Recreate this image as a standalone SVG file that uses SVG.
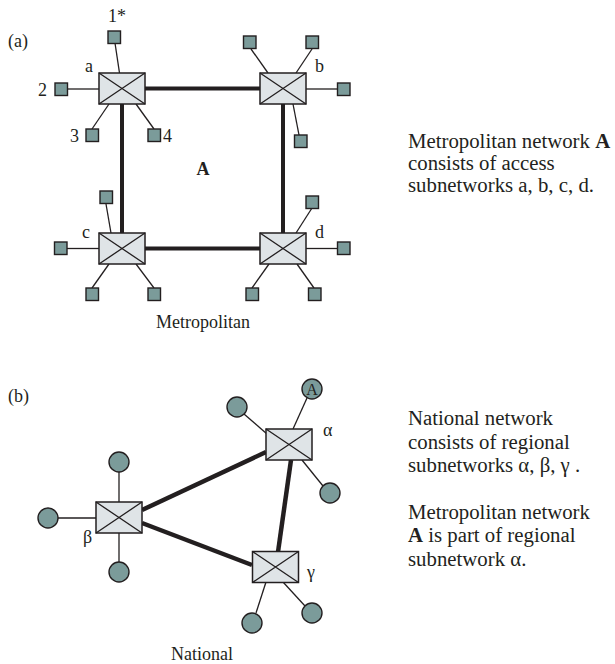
<svg xmlns="http://www.w3.org/2000/svg" width="615" height="664" viewBox="0 0 615 664">
<style>
text{font-family:"Liberation Serif","Times New Roman",serif;fill:#231f20}
.lbl{font-size:18px}
.txt{font-size:20.8px}
.b{font-weight:bold}
.sw{fill:#dfe4e7;stroke:#231f20;stroke-width:1.5}
.x{stroke:#231f20;stroke-width:1.3;fill:none}
.t{fill:#7b9b9a;stroke:#231f20;stroke-width:1.4}
.thin{stroke:#231f20;stroke-width:1.3;fill:none}
.thick{stroke:#231f20;stroke-width:4;fill:none}
.thickb{stroke:#231f20;stroke-width:4.5;fill:none}
</style>
<defs>
<g id="sw"><rect class="sw" x="-23" y="-15.5" width="46" height="31"/><path class="x" d="M-23,-15.5L23,15.5M-23,15.5L23,-15.5"/></g>
</defs>

<g id="connectors">
<line class="thick" x1="145" y1="88.5" x2="260" y2="88.5"/>
<line class="thick" x1="145" y1="248.5" x2="260" y2="248.5"/>
<line class="thick" x1="122" y1="104" x2="122" y2="233"/>
<line class="thick" x1="283" y1="104" x2="283" y2="233"/>
<line class="thin" x1="115" y1="43" x2="119.5" y2="73"/>
<line class="thin" x1="68" y1="89" x2="99" y2="89"/>
<line class="thin" x1="109" y1="104" x2="92" y2="129"/>
<line class="thin" x1="136" y1="104" x2="154" y2="129"/>
<line class="thin" x1="268" y1="73" x2="251" y2="49"/>
<line class="thin" x1="296" y1="73" x2="312" y2="49"/>
<line class="thin" x1="306" y1="89" x2="337" y2="89"/>
<line class="thin" x1="293" y1="104" x2="299" y2="135"/>
<line class="thin" x1="106" y1="204" x2="111" y2="233"/>
<line class="thin" x1="67" y1="248.5" x2="99" y2="248.5"/>
<line class="thin" x1="109" y1="264" x2="92" y2="288"/>
<line class="thin" x1="136" y1="264" x2="154" y2="288"/>
<line class="thin" x1="296" y1="233" x2="312" y2="208"/>
<line class="thin" x1="306" y1="248.5" x2="337" y2="248.5"/>
<line class="thin" x1="269" y1="264" x2="252" y2="288"/>
<line class="thin" x1="297" y1="264" x2="314" y2="288"/>
<line class="thickb" x1="142" y1="510" x2="266" y2="452"/>
<line class="thickb" x1="142" y1="523" x2="252" y2="565"/>
<line class="thickb" x1="291" y1="460" x2="278" y2="552"/>
<line class="thin" x1="293" y1="429" x2="307" y2="398"/>
<line class="thin" x1="244" y1="414" x2="267" y2="434"/>
<line class="thin" x1="302" y1="460" x2="323" y2="486"/>
<line class="thin" x1="119" y1="472" x2="119" y2="502"/>
<line class="thin" x1="58" y1="518" x2="96" y2="518"/>
<line class="thin" x1="119" y1="532" x2="119" y2="562"/>
<line class="thin" x1="266" y1="582" x2="256" y2="613"/>
<line class="thin" x1="283" y1="582" x2="305" y2="606"/>
</g>

<g id="node-a">
<use href="#sw" x="122" y="88.5"/>
<rect class="t" x="108" y="31" width="12.5" height="12.5"/>
<rect class="t" x="55" y="83" width="12.5" height="12.5"/>
<rect class="t" x="86" y="129" width="12.5" height="12.5"/>
<rect class="t" x="148" y="129" width="12.5" height="12.5"/>
<text class="lbl" x="108" y="22">1*</text>
<text class="lbl" x="38" y="96">2</text>
<text class="lbl" x="70" y="142">3</text>
<text class="lbl" x="163" y="142">4</text>
<text class="lbl" x="85" y="72">a</text>
</g>
<g id="node-b">
<use href="#sw" x="283" y="88.5"/>
<rect class="t" x="243.5" y="36" width="12.5" height="12.5"/>
<rect class="t" x="306" y="36" width="12.5" height="12.5"/>
<rect class="t" x="337.5" y="83" width="12.5" height="12.5"/>
<rect class="t" x="294.5" y="135" width="12.5" height="12.5"/>
<text class="lbl" x="315" y="72">b</text>
</g>
<g id="node-c">
<use href="#sw" x="122" y="248.5"/>
<rect class="t" x="100" y="191" width="12.5" height="12.5"/>
<rect class="t" x="54.5" y="242" width="12.5" height="12.5"/>
<rect class="t" x="86" y="288" width="12.5" height="12.5"/>
<rect class="t" x="148" y="288" width="12.5" height="12.5"/>
<text class="lbl" x="82" y="238">c</text>
</g>
<g id="node-d">
<use href="#sw" x="283" y="248.5"/>
<rect class="t" x="306" y="196" width="12.5" height="12.5"/>
<rect class="t" x="337.5" y="242" width="12.5" height="12.5"/>
<rect class="t" x="246" y="288" width="12.5" height="12.5"/>
<rect class="t" x="308.5" y="288" width="12.5" height="12.5"/>
<text class="lbl" x="315" y="238">d</text>
</g>

<g id="part-a-labels">
<text class="lbl" x="8" y="47">(a)</text>
<text class="lbl b" x="203" y="175" text-anchor="middle">A</text>
<text class="lbl" x="203" y="328" text-anchor="middle">Metropolitan</text>
<text class="txt" x="408" y="148">Metropolitan network <tspan class="b">A</tspan></text>
<text class="txt" x="408" y="170">consists of access</text>
<text class="txt" x="408" y="192">subnetworks a, b, c, d.</text>
</g>

<g id="node-alpha">
<use href="#sw" x="289" y="444.5"/>
<circle class="t" cx="312" cy="389" r="10"/>
<text x="312" y="395" text-anchor="middle" style="font-size:16px">A</text>
<circle class="t" cx="237" cy="407" r="10"/>
<circle class="t" cx="330" cy="493" r="10"/>
<text class="lbl" x="323" y="436">α</text>
</g>
<g id="node-beta">
<use href="#sw" x="119" y="517.5"/>
<circle class="t" cx="119" cy="462" r="10"/>
<circle class="t" cx="48" cy="518" r="10"/>
<circle class="t" cx="119" cy="572" r="10"/>
<text class="lbl" x="83" y="543">β</text>
</g>
<g id="node-gamma">
<use href="#sw" x="275.5" y="567"/>
<circle class="t" cx="252" cy="623" r="10"/>
<circle class="t" cx="312" cy="613" r="10"/>
<text class="lbl" x="307" y="578">γ</text>
</g>

<g id="part-b-labels">
<text class="lbl" x="8" y="402">(b)</text>
<text class="lbl" x="202" y="660" text-anchor="middle">National</text>
<text class="txt" x="408" y="425">National network</text>
<text class="txt" x="408" y="448.5">consists of regional</text>
<text class="txt" x="408" y="472">subnetworks α, β, γ .</text>
<text class="txt" x="408" y="518.5">Metropolitan network</text>
<text class="txt" x="408" y="542"><tspan class="b">A</tspan> is part of regional</text>
<text class="txt" x="408" y="565.5">subnetwork α.</text>
</g>
</svg>
